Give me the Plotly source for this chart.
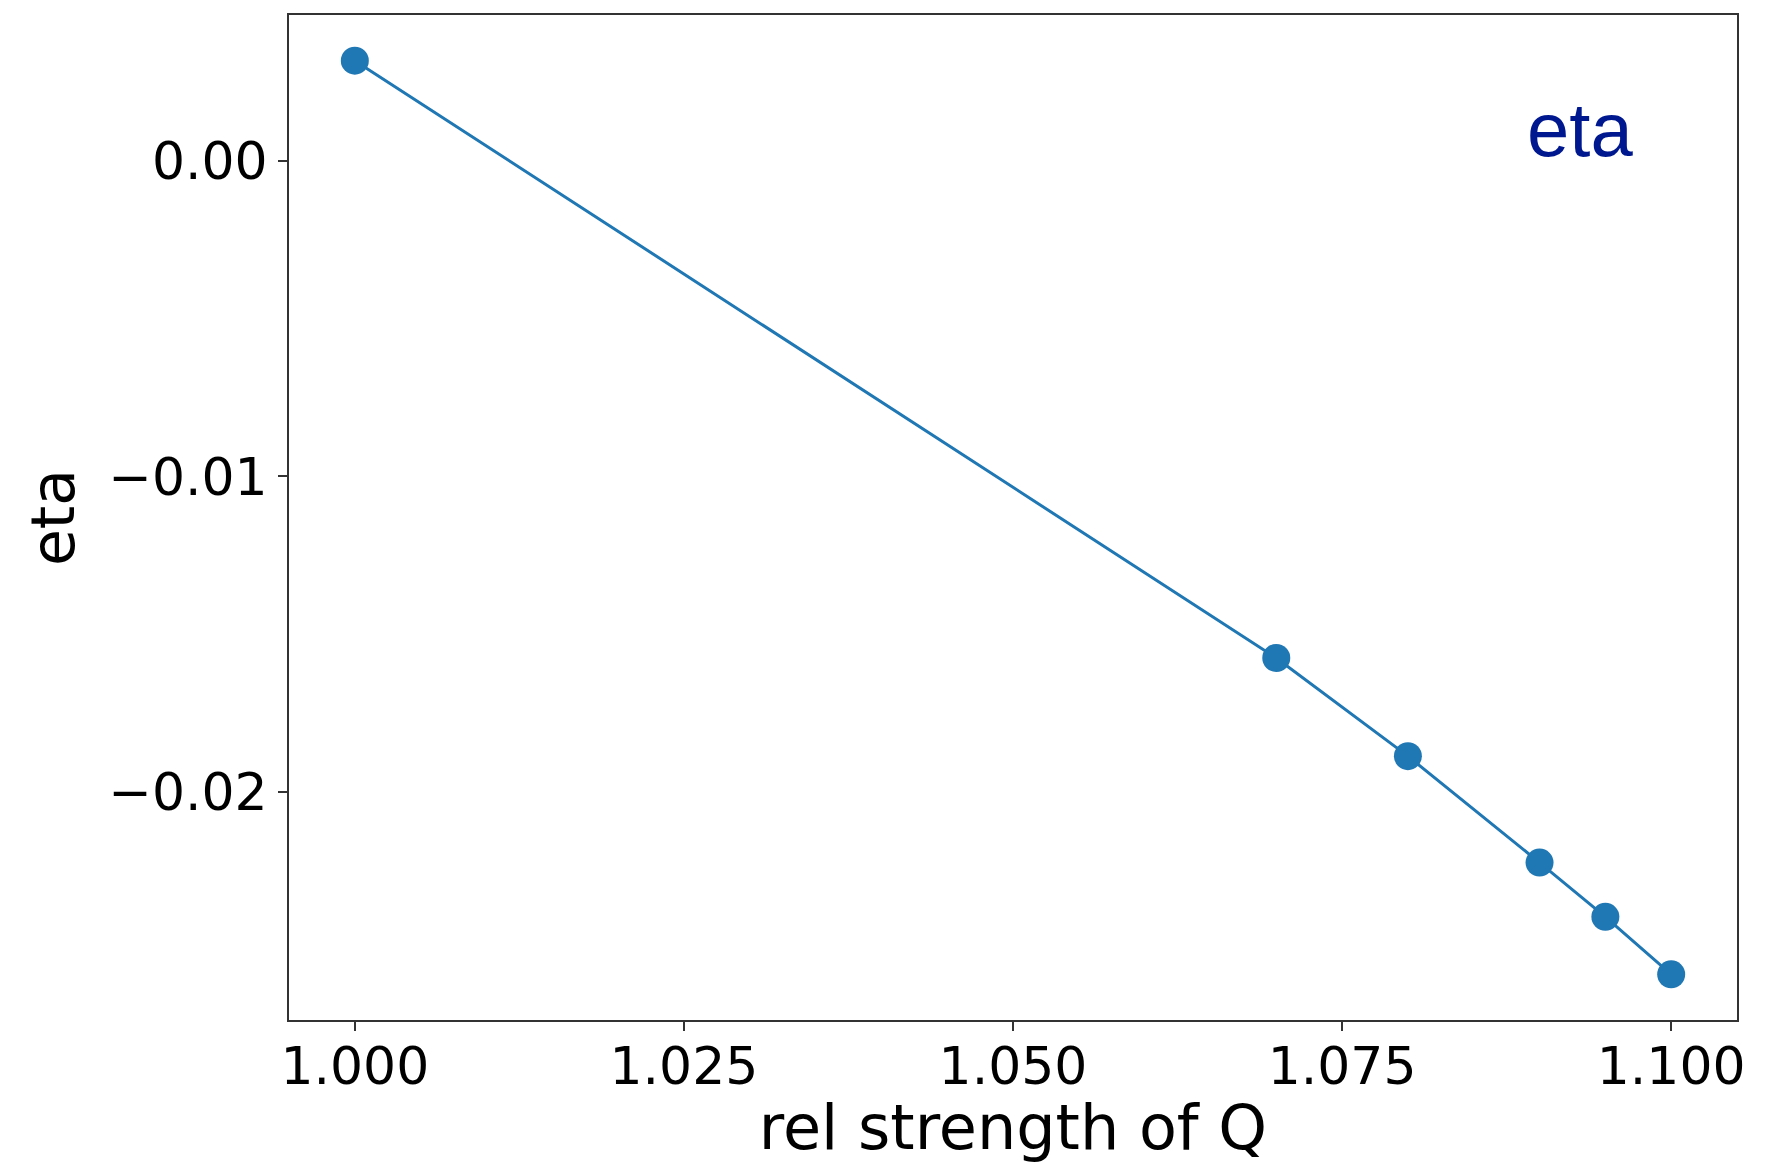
import plotly.graph_objects as go

# data
rel_strength_q = [1.000, 1.070, 1.080, 1.090, 1.095, 1.100]
eta_values = [0.00317, -0.01575, -0.01886, -0.02223, -0.02395, -0.02577]

x_tick_vals = [1.000, 1.025, 1.050, 1.075, 1.100]
x_tick_text = ["1.000", "1.025", "1.050", "1.075", "1.100"]
y_tick_vals = [0.00, -0.01, -0.02]
y_tick_text = ["0.00", "\u22120.01", "\u22120.02"]

FONT = "DejaVu Sans"

fig = go.Figure()
fig.add_trace(go.Scatter(
    x=rel_strength_q, y=eta_values, mode="lines+markers",
    line=dict(color="#1f77b4", width=3),
    marker=dict(color="#1f77b4", size=28),
    showlegend=False,
))
# invisible companion trace so the tick-mark-only axis is drawn
fig.add_trace(go.Scatter(
    x=rel_strength_q, y=eta_values, mode="markers", xaxis="x2", yaxis="y",
    marker=dict(opacity=0), showlegend=False, hoverinfo="skip",
))

x_margin = (max(rel_strength_q) - min(rel_strength_q)) * 0.05
y_margin = (max(eta_values) - min(eta_values)) * 0.05
x_range = [min(rel_strength_q) - x_margin, max(rel_strength_q) + x_margin]

fig.update_layout(
    width=1783, height=1164,
    margin=dict(l=289, r=46, t=15, b=144),
    paper_bgcolor="white", plot_bgcolor="white",
    font=dict(family=FONT, color="black"),
    xaxis=dict(
        range=x_range,
        tickvals=x_tick_vals, ticktext=x_tick_text,
        tickfont=dict(size=52, family=FONT),
        ticks="", ticklen=0,
        showline=True, mirror=True, linecolor="#333", linewidth=1.8,
        showgrid=False, zeroline=False, automargin=False,
        title=dict(text="rel strength of Q", font=dict(size=62, family=FONT), standoff=14),
    ),
    xaxis2=dict(
        range=x_range, overlaying="x", anchor="y", side="bottom",
        tickvals=x_tick_vals, showticklabels=False,
        ticks="outside", ticklen=10, tickwidth=1.5, tickcolor="#333",
        showline=False, showgrid=False, zeroline=False, automargin=False,
    ),
    yaxis=dict(
        range=[min(eta_values) - y_margin, max(eta_values) + y_margin],
        tickvals=y_tick_vals, ticktext=y_tick_text,
        tickfont=dict(size=52, family=FONT),
        ticks="outside", ticklen=9, tickwidth=1.5, tickcolor="#333",
        showline=True, mirror=True, linecolor="#333", linewidth=1.8,
        showgrid=False, zeroline=False, automargin=False,
        title=dict(text="eta", font=dict(size=60, family=FONT), standoff=14),
    ),
    annotations=[dict(
        text="eta", x=0.8916, y=0.8856, xref="paper", yref="paper",
        xanchor="center", yanchor="middle", showarrow=False,
        font=dict(size=76, color="#00188F", family="Liberation Sans"),
    )],
)

fig.write_html("out.html")
